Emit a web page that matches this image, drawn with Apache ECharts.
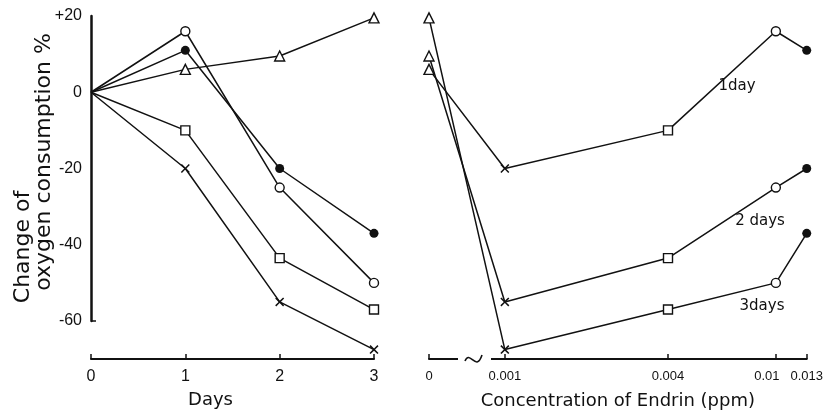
<!DOCTYPE html>
<html><head><meta charset="utf-8">
<script src="https://cdn.jsdelivr.net/npm/echarts@6/dist/echarts.min.js"></script>
<style>html,body{margin:0;padding:0;background:#fff}#c{width:826px;height:418px}</style>
</head><body><div id="c"></div>
<script>
// ---- data ----
const days = [0, 1, 2, 3];
const yTickValues = [-60, -40, -20, 0, 20];
// change of oxygen consumption (%) for each Endrin concentration, at day 0,1,2,3
const concCtrl  = [0, 6, 9.5, 19.5];    // 0 ppm (triangle)
const conc0001  = [0, -20, -55, -67.5]; // 0.001 ppm (cross)
const conc0004  = [0, -10, -43.5, -57]; // 0.004 ppm (square)
const conc001   = [0, 16, -25, -50];    // 0.01 ppm (open circle)
const conc0013  = [0, 11, -20, -37];    // 0.013 ppm (filled circle)
const concLabels = ['0', '0.001', '0.004', '0.01', '0.013'];
// concentrations on the (broken) log axis; the control "0" sits left of the break
const concValues = [0.000525, 0.001, 0.004, 0.01, 0.013];
const dayLineLabels = ['1day', '2 days', '3days'];

// ---- styles ----
const INK = '#111';
const XPATH = 'path://M0,1.2L1.2,0L5,3.8L8.8,0L10,1.2L6.2,5L10,8.8L8.8,10L5,6.2L1.2,10L0,8.8L3.8,5Z';
const hollow = {color: '#fff', borderColor: INK, borderWidth: 1.4};
const groups = [
  {arr: concCtrl, symbol: 'triangle', size: 10, style: hollow},
  {arr: conc0001, symbol: XPATH, size: 9, style: {color: INK, borderWidth: 0}},
  {arr: conc0004, symbol: 'rect', size: 9, style: hollow},
  {arr: conc001,  symbol: 'circle', size: 9, style: hollow},
  {arr: conc0013, symbol: 'circle', size: 9, style: {color: INK, borderWidth: 0}}
];
const lineStyle = {color: INK, width: 1.5};

const series = [];
groups.forEach(g => {
  series.push({
    type: 'line', xAxisIndex: 0, yAxisIndex: 0, clip: false, z: 3,
    symbol: g.symbol, symbolSize: g.size, itemStyle: g.style, lineStyle: lineStyle,
    data: days.map((d, i) => i === 0 ? {value: [d, g.arr[i]], symbol: 'none'} : [d, g.arr[i]])
  });
});
[1, 2, 3].forEach(k => {
  series.push({
    type: 'line', xAxisIndex: 1, yAxisIndex: 1, clip: false, z: 3,
    lineStyle: lineStyle, itemStyle: {color: INK},
    data: groups.map((g, j) => ({
      value: [Math.log10(concValues[j]), g.arr[k]],
      symbol: g.symbol, symbolSize: g.size, itemStyle: g.style
    }))
  });
});

const logTicks = concValues.map(v => Math.log10(v));
function concLabel(v) {
  for (let j = 0; j < logTicks.length; j++) {
    if (Math.abs(logTicks[j] - v) < 1e-6) return j === 3 ? '{l|' + concLabels[j] + '}' : concLabels[j];
  }
  return '';
}

const tickFont = 'Liberation Sans';
const titleFont = 'DejaVu Sans';

const option = {
  animation: false,
  backgroundColor: '#fff',
  grid: [
    {left: 91, right: 452, top: 16, bottom: 97},
    {left: 429, right: 19, top: 16, bottom: 97}
  ],
  xAxis: [
    {
      type: 'value', gridIndex: 0, min: 0, max: 3, interval: 1, offset: 38,
      axisLine: {onZero: false, lineStyle: {color: INK, width: 2}},
      axisTick: {inside: true, length: 5, lineStyle: {color: INK, width: 1.5}},
      axisLabel: {color: INK, fontSize: 16, fontFamily: tickFont, margin: 10},
      splitLine: {show: false},
      name: 'Days', nameLocation: 'middle', nameGap: 32,
      nameTextStyle: {color: INK, fontSize: 18, fontFamily: titleFont, padding: [0, 44, 0, 0]}
    },
    {
      type: 'value', gridIndex: 1, min: logTicks[0], max: logTicks[4], offset: 38,
      axisLine: {onZero: false, lineStyle: {color: INK, width: 2}},
      axisTick: {inside: true, length: 5, customValues: logTicks, lineStyle: {color: INK, width: 1.5}},
      axisLabel: {color: INK, fontSize: 13, fontFamily: tickFont, margin: 11, customValues: logTicks,
        formatter: concLabel, rich: {l: {fontSize: 13, fontFamily: tickFont, color: INK, padding: [0, 18, 0, 0]}}},
      splitLine: {show: false},
      name: 'Concentration of Endrin (ppm)', nameLocation: 'middle', nameGap: 33,
      nameTextStyle: {color: INK, fontSize: 18, fontFamily: titleFont}
    }
  ],
  yAxis: [
    {
      type: 'value', gridIndex: 0, min: -60, max: 20, interval: 20,
      axisLine: {show: true, onZero: false, lineStyle: {color: INK, width: 2.5}},
      axisTick: {show: true, inside: true, length: 5, customValues: [-60], lineStyle: {color: INK, width: 1.5}},
      axisLabel: {color: INK, fontSize: 16, fontFamily: tickFont, margin: 9, customValues: yTickValues,
        formatter: v => (v > 0 ? '+' + v : String(v))},
      splitLine: {show: false}
    },
    {type: 'value', gridIndex: 1, min: -60, max: 20, show: false}
  ],
  graphic: [
    {type: 'rect', z: 100, shape: {x: 458, y: 355, width: 33, height: 8}, style: {fill: '#fff'}},
    {type: 'bezierCurve', z: 101, shape: {x1: 465, y1: 361, cpx1: 470, cpy1: 349, cpx2: 476, cpy2: 373, x2: 482, y2: 355},
      style: {stroke: INK, lineWidth: 1.6, fill: null}},
    {type: 'text', z: 100, x: 23, y: 247, rotation: Math.PI / 2,
      style: {text: 'Change of', fontSize: 22, fontFamily: titleFont, fill: INK, align: 'center', verticalAlign: 'middle'}},
    {type: 'text', z: 100, x: 44, y: 162, rotation: Math.PI / 2,
      style: {text: 'oxygen consumption %', fontSize: 22, fontFamily: titleFont, fill: INK, align: 'center', verticalAlign: 'middle'}},
    {type: 'text', z: 100, x: 737, y: 86,
      style: {text: dayLineLabels[0], fontSize: 15, fontFamily: titleFont, fill: INK, align: 'center', verticalAlign: 'middle'}},
    {type: 'text', z: 100, x: 760, y: 221,
      style: {text: dayLineLabels[1], fontSize: 15, fontFamily: titleFont, fill: INK, align: 'center', verticalAlign: 'middle'}},
    {type: 'text', z: 100, x: 762, y: 306,
      style: {text: dayLineLabels[2], fontSize: 15, fontFamily: titleFont, fill: INK, align: 'center', verticalAlign: 'middle'}}
  ],
  series: series
};

const chart = echarts.init(document.getElementById('c'), null, {renderer: 'canvas'});
chart.setOption(option);
</script>
</body></html>
